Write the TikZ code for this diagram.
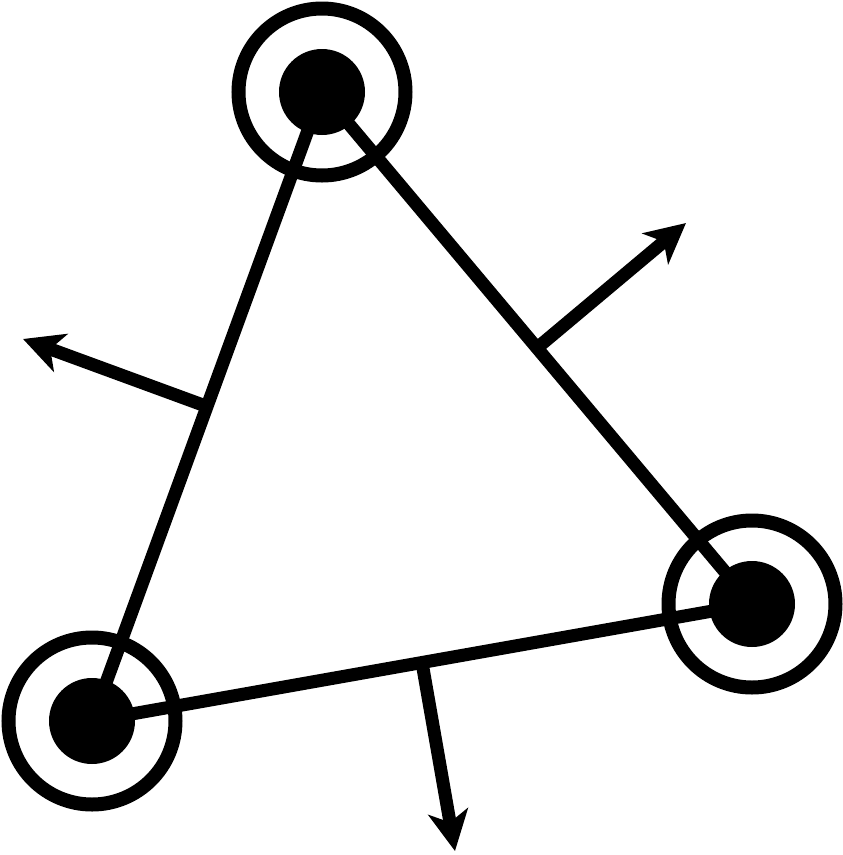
\documentclass[tikz,border=0pt]{standalone}
\usetikzlibrary{arrows.meta,calc}
\begin{document}
\begin{tikzpicture}[x=1pt,y=-1pt,
  dot/.style={circle,fill=black,inner sep=0pt,minimum size=86pt},
  ring/.style={circle,draw=black,line width=14pt,inner sep=0pt,minimum size=167pt},
  edge/.style={line width=13pt,line cap=butt},
  normal/.style={line width=13pt,line cap=butt,-{Stealth[length=40pt,width=40pt,inset=11pt]}}]
\useasboundingbox (0,0) rectangle (843,855);
\node[dot] (A) at (322,92) {};
\node[dot] (B) at (92,721) {};
\node[dot] (C) at (752,604) {};
\node[ring] (rA) at (A) {};
\node[ring] (rB) at (B) {};
\node[ring] (rC) at (C) {};
\draw[edge] (A.center) -- (B.center);
\draw[edge] (A.center) -- (C.center);
\draw[edge] (B.center) -- (C.center);
\coordinate (mAB) at ($(A)!0.5!(B)$);
\coordinate (mAC) at ($(A)!0.5!(C)$);
\coordinate (mBC) at ($(B)!0.5!(C)$);
\coordinate (tAB) at (23,339);
\coordinate (tAC) at (686,223);
\coordinate (tBC) at (455,851);
\draw[normal] (mAB) -- (tAB);
\draw[normal] (mAC) -- (tAC);
\draw[normal] (mBC) -- (tBC);
\end{tikzpicture}
\end{document}
